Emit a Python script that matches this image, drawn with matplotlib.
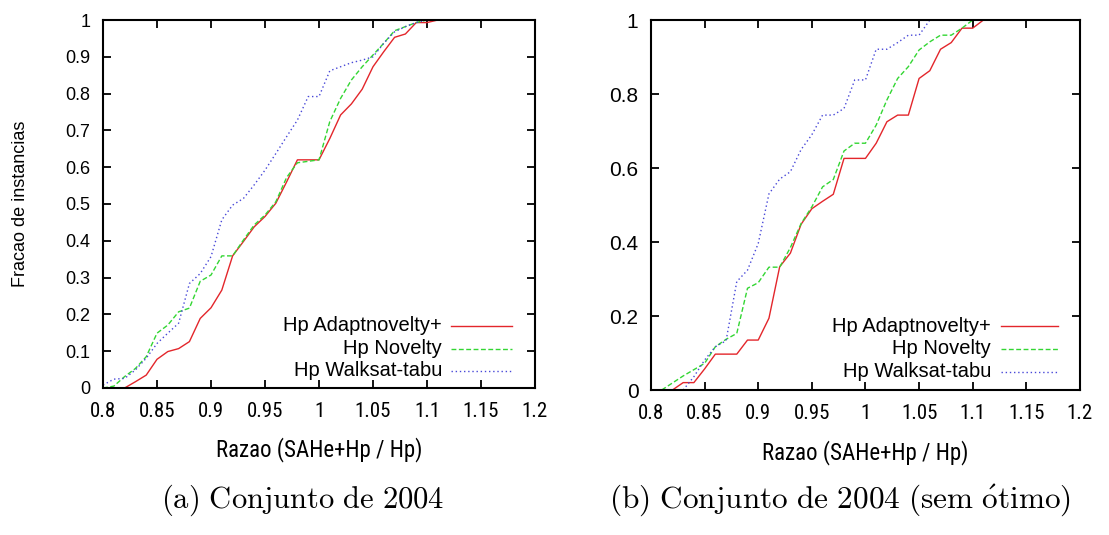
import matplotlib
matplotlib.use("Agg")
import matplotlib.pyplot as plt
from matplotlib import font_manager

plt.rcParams['font.family'] = ['Liberation Sans', 'DejaVu Sans']
plt.rcParams['mathtext.fontset'] = 'cm'

# axis numbers/labels use a condensed face when one is installed
installed = {f.name for f in font_manager.fontManager.ttflist}
narrow = [n for n in ('Liberation Sans Narrow', 'Roboto Condensed',
                      'Open Sans Condensed', 'Noto Sans Condensed') if n in installed]
if narrow:
    NARROW, NARROW_SIZE, XLABEL_SIZE = [narrow[0], 'Liberation Sans'], 15, 16.5
else:
    NARROW, NARROW_SIZE, XLABEL_SIZE = ['Liberation Sans'], 13.5, 14

# --- (a) Conjunto de 2004 ---------------------------------------------------
a_adapt_x = [0.80, 0.82, 0.83, 0.84, 0.85, 0.86, 0.87, 0.88, 0.89, 0.90, 0.91,
             0.92, 0.93, 0.94, 0.95, 0.96, 0.97, 0.98, 0.99, 1.00, 1.01, 1.02,
             1.03, 1.04, 1.05, 1.06, 1.07, 1.08, 1.09, 1.10, 1.11]
a_adapt_y = [0.0, 0.0, 0.017, 0.035, 0.078, 0.099, 0.107, 0.126, 0.189, 0.218,
             0.266, 0.359, 0.398, 0.438, 0.466, 0.502, 0.560, 0.620, 0.620,
             0.620, 0.678, 0.742, 0.772, 0.812, 0.873, 0.914, 0.953, 0.962,
             0.993, 0.993, 1.0]

a_novelty_x = [0.80, 0.81, 0.82, 0.83, 0.84, 0.85, 0.86, 0.87, 0.88, 0.89, 0.90,
               0.91, 0.92, 0.93, 0.94, 0.95, 0.96, 0.97, 0.98, 0.99, 1.00, 1.01,
               1.02, 1.03, 1.04, 1.05, 1.06, 1.07, 1.08, 1.09, 1.10]
a_novelty_y = [0.0, 0.005, 0.031, 0.053, 0.085, 0.149, 0.171, 0.207, 0.217,
               0.290, 0.307, 0.359, 0.359, 0.402, 0.443, 0.470, 0.506, 0.572,
               0.612, 0.616, 0.620, 0.724, 0.787, 0.837, 0.873, 0.905, 0.937,
               0.971, 0.982, 0.993, 1.0]

a_walksat_x = [0.80, 0.81, 0.82, 0.83, 0.84, 0.85, 0.86, 0.87, 0.88, 0.89, 0.90,
               0.91, 0.92, 0.93, 0.94, 0.95, 0.96, 0.97, 0.98, 0.99, 1.00, 1.01,
               1.02, 1.03, 1.04, 1.05, 1.06, 1.07, 1.08, 1.09, 1.10]
a_walksat_y = [0.008, 0.024, 0.026, 0.049, 0.081, 0.121, 0.149, 0.176, 0.284,
               0.311, 0.357, 0.457, 0.497, 0.515, 0.552, 0.592, 0.637, 0.683,
               0.728, 0.792, 0.792, 0.862, 0.873, 0.884, 0.891, 0.900, 0.937,
               0.968, 0.982, 0.993, 1.0]

# --- (b) Conjunto de 2004 (sem otimo) ----------------------------------------
b_adapt_x = [0.82, 0.83, 0.84, 0.85, 0.86, 0.87, 0.88, 0.89, 0.90, 0.91, 0.92,
             0.93, 0.94, 0.95, 0.96, 0.97, 0.98, 0.99, 1.00, 1.01, 1.02, 1.03,
             1.04, 1.05, 1.06, 1.07, 1.08, 1.09, 1.10, 1.11]
b_adapt_y = [0.0, 0.02, 0.02, 0.057, 0.097, 0.097, 0.097, 0.135, 0.135, 0.194,
             0.333, 0.370, 0.448, 0.490, 0.510, 0.529, 0.626, 0.626, 0.626,
             0.667, 0.725, 0.743, 0.743, 0.842, 0.863, 0.921, 0.939, 0.978,
             0.978, 1.0]

b_novelty_x = [0.81, 0.83, 0.85, 0.86, 0.87, 0.88, 0.89, 0.90, 0.91, 0.92, 0.93,
               0.94, 0.95, 0.96, 0.97, 0.98, 0.99, 1.00, 1.01, 1.02, 1.03, 1.04,
               1.05, 1.06, 1.07, 1.08, 1.09, 1.10]
b_novelty_y = [0.0, 0.038, 0.072, 0.117, 0.137, 0.153, 0.275, 0.290, 0.332,
               0.332, 0.385, 0.450, 0.495, 0.549, 0.569, 0.646, 0.667, 0.667,
               0.716, 0.784, 0.842, 0.874, 0.919, 0.941, 0.959, 0.959, 0.978,
               1.0]

b_walksat_x = [0.83, 0.84, 0.85, 0.86, 0.87, 0.88, 0.89, 0.90, 0.91, 0.92, 0.93,
               0.94, 0.95, 0.96, 0.97, 0.98, 0.99, 1.00, 1.01, 1.02, 1.03, 1.04,
               1.05, 1.06]
b_walksat_y = [0.0, 0.036, 0.081, 0.117, 0.133, 0.293, 0.324, 0.396, 0.53,
               0.57, 0.59, 0.65, 0.69, 0.743, 0.743, 0.761, 0.838, 0.838, 0.921,
               0.921, 0.939, 0.959, 0.959, 1.0]

labels = ["Hp Adaptnovelty+", "Hp Novelty", "Hp Walksat-tabu"]
xticks = [0.8, 0.85, 0.9, 0.95, 1.0, 1.05, 1.1, 1.15, 1.2]
xtick_labels = ["0.8", "0.85", "0.9", "0.95", "1", "1.05", "1.1", "1.15", "1.2"]
a_yticks = [0, 0.1, 0.2, 0.3, 0.4, 0.5, 0.6, 0.7, 0.8, 0.9, 1.0]
a_ytick_labels = ["0", "0.1", "0.2", "0.3", "0.4", "0.5", "0.6", "0.7", "0.8", "0.9", "1"]
b_yticks = [0, 0.2, 0.4, 0.6, 0.8, 1.0]
b_ytick_labels = ["0", "0.2", "0.4", "0.6", "0.8", "1"]

styles = [dict(color='#e3262b', linestyle='-'),
          dict(color='#33d633', linestyle=(0, (3.5, 1.8))),
          dict(color='#4848d8', linestyle=(0, (1.0, 2.0)))]

fig = plt.figure(figsize=(11.09, 5.35), dpi=100)
ax1 = fig.add_axes([0.0929, 0.2748, 0.3895, 0.6878])
ax2 = fig.add_axes([0.5870, 0.2710, 0.3868, 0.6916])


def draw_panel(ax, series, yticks, ylabels, ytick_size, key):
    for (xs, ys), st in zip(series, styles):
        ax.plot(xs, ys, linewidth=1.0, **st)

    ax.set_xlim(0.8, 1.2)
    ax.set_ylim(0, 1)
    ax.set_xticks(xticks)
    ax.set_xticklabels(xtick_labels, fontfamily=NARROW, fontsize=NARROW_SIZE)
    ax.set_yticks(yticks)
    ax.set_yticklabels(ylabels, fontsize=ytick_size)
    ax.tick_params(direction='in', top=True, right=True, length=6, width=1.3)
    ax.tick_params(axis='x', pad=10)
    ax.tick_params(axis='y', pad=9)
    for sp in ax.spines.values():
        sp.set_linewidth(1.5)
    ax.set_xlabel("Razao (SAHe+Hp / Hp)", fontfamily=NARROW,
                  fontsize=XLABEL_SIZE, labelpad=12)

    # gnuplot-like key: right-aligned text followed by the line sample
    text_right, x0, x1, rows = key
    for lab, st, y in zip(labels, styles, rows):
        ax.plot([x0, x1], [y, y], transform=ax.transAxes, linewidth=1.0,
                clip_on=False, **st)
        ax.text(text_right, y, lab, transform=ax.transAxes, ha='right',
                va='center', fontsize=14.5)


draw_panel(ax1, [(a_adapt_x, a_adapt_y), (a_novelty_x, a_novelty_y),
                 (a_walksat_x, a_walksat_y)],
           a_yticks, a_ytick_labels, 13,
           (0.785, 0.806, 0.947, [0.1685, 0.106, 0.0462]))
ax1.set_ylabel("Fracao de instancias", fontsize=13, labelpad=26)

draw_panel(ax2, [(b_adapt_x, b_adapt_y), (b_novelty_x, b_novelty_y),
                 (b_walksat_x, b_walksat_y)],
           b_yticks, b_ytick_labels, 15,
           (0.793, 0.816, 0.949, [0.173, 0.111, 0.049]))

fig.text(303 / 1109, 1 - 500 / 535, r'$\mathrm{(a)\ Conjunto\ de\ 2004}$',
         ha='center', va='center', fontsize=22)
fig.text(840 / 1109, 1 - 500 / 535,
         r'$\mathrm{(b)\ Conjunto\ de\ 2004\ (sem\ \acute{o}timo)}$',
         ha='center', va='center', fontsize=22.5)

fig.savefig("out.png", dpi=100)
